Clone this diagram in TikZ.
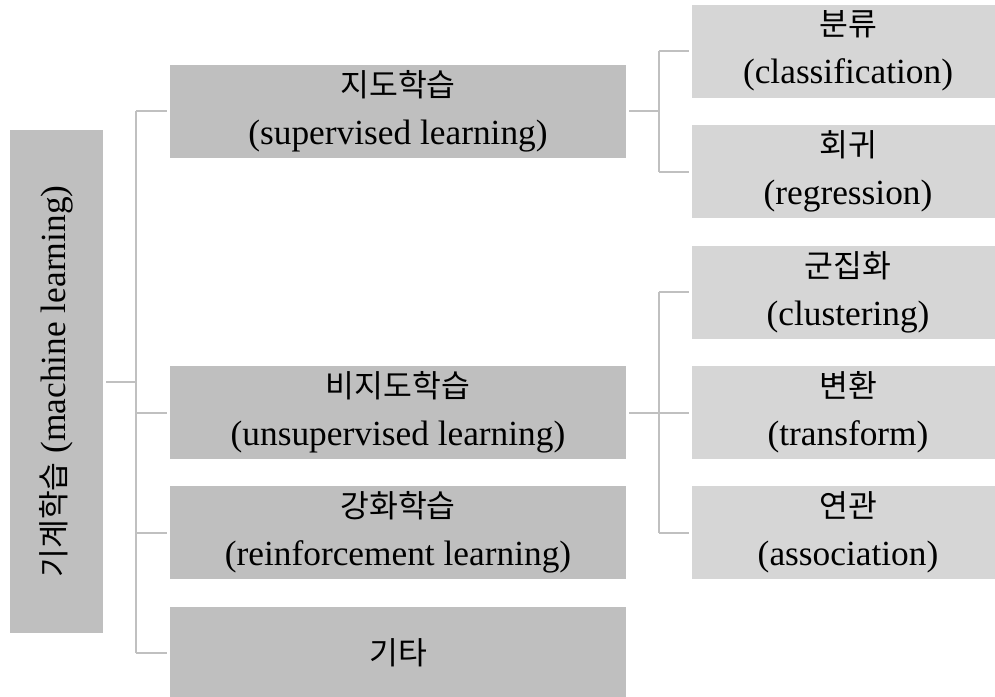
\documentclass[tikz,border=0pt]{standalone}
\usepackage{fontspec}
\setmainfont{Liberation Serif}
\newfontfamily\krfont{Noto Sans CJK KR}
\newcommand\kor[1]{{\krfont\fontsize{23.5}{36}\selectfont #1}}
\definecolor{boxgray}{HTML}{BFBFBF}
\definecolor{leafgray}{HTML}{D6D6D6}
\definecolor{linegray}{HTML}{C0C0C0}

\begin{document}
\begin{tikzpicture}[x=0.75pt,y=-0.75pt,
    basebox/.style={inner sep=0pt, outer sep=2.25pt, align=center, font=\fontsize{26.5}{36}\selectfont},
    rootbox/.style={basebox, fill=boxgray, minimum width=69.75pt, minimum height=377.25pt},
    lvlbox/.style={basebox, fill=boxgray, minimum width=342pt, minimum height=69.75pt},
    leafbox/.style={basebox, fill=leafgray, minimum width=234pt, minimum height=69.75pt},
    link/.style={draw=linegray, line width=1.5pt}]
  \clip (0,0) rectangle (995,696);

  % root
  \node[rootbox] (ml) at (56.5,381.5) {\rotatebox{90}{\kor{기계학습} (machine learning)}};

  % first level
  \node[lvlbox] (sl) at (398,111) {\kor{지도학습}\\(supervised learning)};
  \node[lvlbox] (ul) at (398,412.5) {\kor{비지도학습}\\(unsupervised learning)};
  \node[lvlbox] (rl) at (398,532.5) {\kor{강화학습}\\(reinforcement learning)};
  \node[lvlbox] (etc) at (398,653) {\kor{기타}};

  % second level
  \node[leafbox] (cls) at (848,51) {\kor{분류}\\(classification)};
  \node[leafbox] (reg) at (848,171.5) {\kor{회귀}\\(regression)};
  \node[leafbox] (clu) at (848,292) {\kor{군집화}\\(clustering)};
  \node[leafbox] (trf) at (848,412.5) {\kor{변환}\\(transform)};
  \node[leafbox] (asc) at (848,532.5) {\kor{연관}\\(association)};

  % connectors
  \coordinate (trunk) at (136,0);
  \coordinate (fork) at (659,0);
  \draw[link] (ml.east) -- (ml.east -| trunk);
  \draw[link] (sl.west -| trunk) -- (etc.west -| trunk);
  \foreach \n in {sl,ul,rl,etc}
    \draw[link] (\n.west -| trunk) -- (\n.west);

  \draw[link] (sl.east) -- (sl.east -| fork);
  \draw[link] (cls.west -| fork) -- (reg.west -| fork);
  \foreach \n in {cls,reg}
    \draw[link] (\n.west -| fork) -- (\n.west);

  \draw[link] (ul.east) -- (ul.east -| fork);
  \draw[link] (clu.west -| fork) -- (asc.west -| fork);
  \foreach \n in {clu,trf,asc}
    \draw[link] (\n.west -| fork) -- (\n.west);
\end{tikzpicture}
\end{document}
